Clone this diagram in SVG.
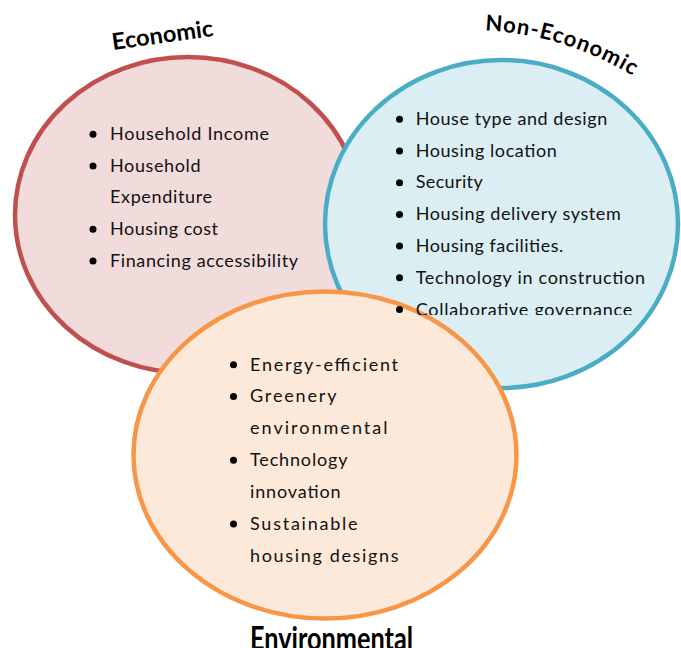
<svg xmlns="http://www.w3.org/2000/svg" width="681" height="648" viewBox="0 0 681 648">
  <style>
    .item { font-family: Lato, "Open Sans", "Liberation Sans", sans-serif; font-size: 18px; fill: #111111; }
    .title { font-family: Lato, "Open Sans", "Liberation Sans", sans-serif; font-weight: 700; fill: #000000; }
    .dot { fill: #000000; }
    .set { stroke-width: 4.5; }
  </style>
  <defs>
    <!-- arc that the Non-Economic heading follows -->
    <path id="arcNonEco" d="M485,30.4 A312,312 0 0 1 690.6,121.4" fill="none"/>
    <!-- text frame of the Non-Economic list cuts off its last line -->
    <clipPath id="clipNonEco">
      <rect x="380" y="95" width="290" height="220"/>
    </clipPath>
  </defs>

  <rect width="681" height="648" fill="#ffffff"/>

  <!-- the three sets, drawn back to front -->
  <g id="economic">
    <ellipse class="set" cx="188" cy="215" rx="173" ry="158" fill="#F2DCDB" stroke="#C0504D"/>
  </g>
  <g id="non-economic">
    <ellipse class="set" cx="501.5" cy="224" rx="176.5" ry="164" fill="#DAEEF3" stroke="#4BACC6"/>
  </g>
  <g id="environmental">
    <ellipse class="set" cx="325" cy="455" rx="191.5" ry="163.5" fill="#FDE9D9" stroke="#F79646"/>
  </g>

  <!-- no connectors between the sets -->
  <g id="connectors"/>

  <!-- headings -->
  <g id="economic-title">
    <text class="title" font-size="23" transform="translate(113,50) rotate(-8)" textLength="102" lengthAdjust="spacingAndGlyphs">Economic</text>
  </g>
  <g id="non-economic-title">
    <text class="title" font-size="22"><textPath href="#arcNonEco" textLength="156" lengthAdjust="spacing">Non-Economic</textPath></text>
  </g>
  <g id="environmental-title">
    <text class="title" font-size="23" transform="translate(250,650) scale(1,1.4)" textLength="163" lengthAdjust="spacingAndGlyphs">Environmental</text>
  </g>

  <!-- economic factors -->
  <g id="economic-items">
    <circle class="dot" cx="93" cy="134.3" r="3.5"/>
    <text class="item" x="110" y="140" textLength="159" lengthAdjust="spacing">Household Income</text>
    <circle class="dot" cx="93" cy="166" r="3.5"/>
    <text class="item" x="110" y="171.7" textLength="90.5" lengthAdjust="spacing">Household</text>
    <text class="item" x="110" y="203.4" textLength="102" lengthAdjust="spacing">Expenditure</text>
    <circle class="dot" cx="93" cy="229.3" r="3.5"/>
    <text class="item" x="110" y="235" textLength="108" lengthAdjust="spacing">Housing cost</text>
    <circle class="dot" cx="93" cy="261" r="3.5"/>
    <text class="item" x="110" y="266.7" textLength="188" lengthAdjust="spacing">Financing accessibility</text>
  </g>

  <!-- environmental factors -->
  <g id="environmental-items">
    <circle class="dot" cx="233.5" cy="364.7" r="3.5"/>
    <text class="item" x="250" y="370.5" textLength="148" lengthAdjust="spacing">Energy-efficient</text>
    <circle class="dot" cx="233.5" cy="396.5" r="3.5"/>
    <text class="item" x="250" y="402.3" textLength="86.5" lengthAdjust="spacing">Greenery</text>
    <text class="item" x="250" y="434.2" textLength="137.5" lengthAdjust="spacing">environmental</text>
    <circle class="dot" cx="233.5" cy="460.2" r="3.5"/>
    <text class="item" x="250" y="466" textLength="97.5" lengthAdjust="spacing">Technology</text>
    <text class="item" x="250" y="497.9" textLength="90.5" lengthAdjust="spacing">innovation</text>
    <circle class="dot" cx="233.5" cy="523.9" r="3.5"/>
    <text class="item" x="250" y="529.7" textLength="107.5" lengthAdjust="spacing">Sustainable</text>
    <text class="item" x="250" y="561.6" textLength="148.5" lengthAdjust="spacing">housing designs</text>
  </g>

  <!-- non-economic factors -->
  <g id="non-economic-items" clip-path="url(#clipNonEco)">
    <circle class="dot" cx="399.5" cy="119.3" r="3.5"/>
    <text class="item" x="415.7" y="125" textLength="191.5" lengthAdjust="spacing">House type and design</text>
    <circle class="dot" cx="399.5" cy="151" r="3.5"/>
    <text class="item" x="415.7" y="156.7" textLength="141" lengthAdjust="spacing">Housing location</text>
    <circle class="dot" cx="399.5" cy="182.7" r="3.5"/>
    <text class="item" x="415.7" y="188.4" textLength="67" lengthAdjust="spacing">Security</text>
    <circle class="dot" cx="399.5" cy="214.4" r="3.5"/>
    <text class="item" x="415.7" y="220.1" textLength="205" lengthAdjust="spacing">Housing delivery system</text>
    <circle class="dot" cx="399.5" cy="246.1" r="3.5"/>
    <text class="item" x="415.7" y="251.8" textLength="147.5" lengthAdjust="spacing">Housing facilities.</text>
    <circle class="dot" cx="399.5" cy="277.8" r="3.5"/>
    <text class="item" x="415.7" y="283.8" textLength="229.3" lengthAdjust="spacing">Technology in construction</text>
    <circle class="dot" cx="399.5" cy="309.5" r="3.5"/>
    <text class="item" x="415.7" y="315.5" textLength="216.5" lengthAdjust="spacing">Collaborative governance</text>
  </g>
</svg>
